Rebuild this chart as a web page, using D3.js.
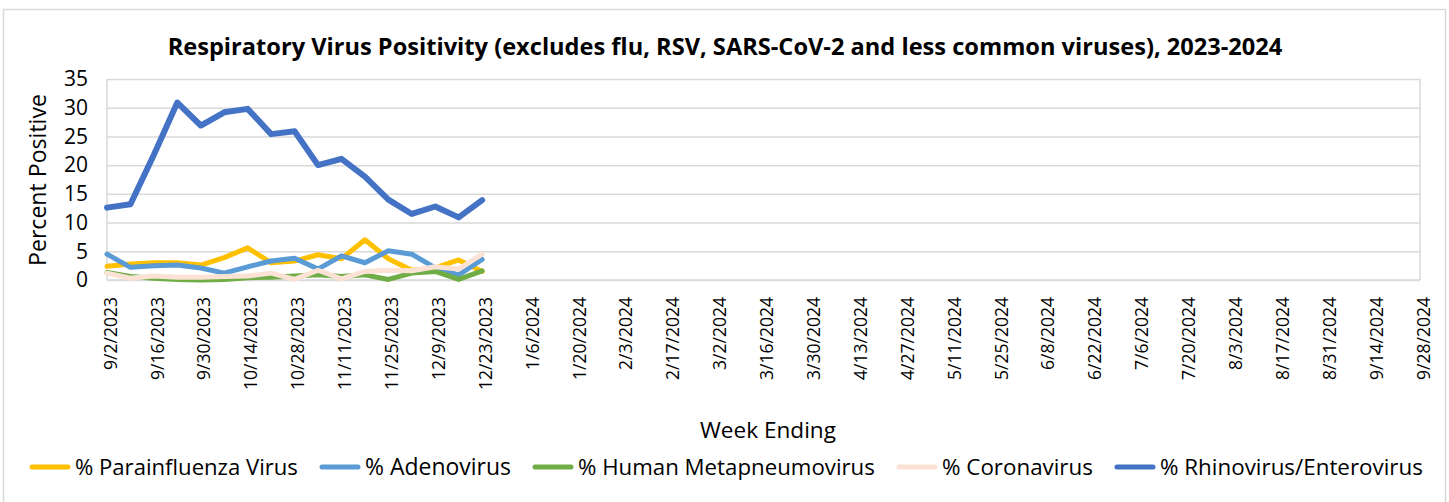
<!DOCTYPE html>
<html>
<head>
<meta charset="utf-8">
<script src="https://cdn.jsdelivr.net/npm/d3@7"></script>
<style>
  body { margin: 0; background: #fff; }
  svg text { font-family: "Open Sans", "Noto Sans", sans-serif; fill: #000; }
</style>
</head>
<body>
<div id="chart"></div>
<script>
var weeks = ["9/2/2023","9/9/2023","9/16/2023","9/23/2023","9/30/2023","10/7/2023","10/14/2023","10/21/2023","10/28/2023","11/4/2023","11/11/2023","11/18/2023","11/25/2023","12/2/2023","12/9/2023","12/16/2023","12/23/2023","12/30/2023",
  "1/6/2024","1/13/2024","1/20/2024","1/27/2024","2/3/2024","2/10/2024","2/17/2024","2/24/2024","3/2/2024","3/9/2024","3/16/2024","3/23/2024","3/30/2024",
  "4/6/2024","4/13/2024","4/20/2024","4/27/2024","5/4/2024","5/11/2024","5/18/2024","5/25/2024","6/1/2024","6/8/2024","6/15/2024","6/22/2024","6/29/2024",
  "7/6/2024","7/13/2024","7/20/2024","7/27/2024","8/3/2024","8/10/2024","8/17/2024","8/24/2024","8/31/2024","9/7/2024","9/14/2024","9/21/2024","9/28/2024"]

var seriesNames = ["% Parainfluenza Virus", "% Adenovirus", "% Human Metapneumovirus", "% Coronavirus", "% Rhinovirus/Enterovirus"]

var parainfluenza = [2.4, 2.8, 3.0, 3.0, 2.6, 3.9, 5.6, 3.0, 3.3, 4.4, 3.7, 7.0, 3.7, 1.7, 2.1, 3.5, 1.5]
var adenovirus    = [4.5, 2.2, 2.5, 2.6, 2.1, 1.2, 2.3, 3.3, 3.8, 1.9, 4.2, 3.0, 5.1, 4.5, 2.1, 0.9, 3.6]
var hmpv          = [1.3, 0.6, 0.3, 0.1, 0.0, 0.1, 0.4, 0.5, 0.7, 0.9, 0.6, 0.9, 0.1, 1.2, 1.5, 0.1, 1.6]
var coronavirus   = [1.2, 0.3, 0.7, 0.5, 0.5, 0.6, 0.7, 1.2, 0.1, 1.7, 0.2, 1.5, 1.7, 1.6, 2.3, 1.9, 4.5]
var rhino         = [12.6, 13.2, 21.8, 30.9, 26.9, 29.2, 29.8, 25.4, 25.9, 20.0, 21.1, 18.0, 14.0, 11.5, 12.8, 10.9, 13.9]

var yTicks = [0, 5, 10, 15, 20, 25, 30, 35]

var colors = ["#FFC000", "#5B9BD5", "#70AD47", "#FBE2D5", "#4472C4"]
var allSeries = [parainfluenza, adenovirus, hmpv, coronavirus, rhino]

var W = 1449, H = 502
var plot = {left: 107, right: 1420, top: 79, bottom: 280}

var svg = d3.select("#chart").append("svg")
  .attr("width", W).attr("height", H)

// chart border
svg.append("rect")
  .attr("x", 3.5).attr("y", 9.5)
  .attr("width", 1442).attr("height", 500)
  .attr("fill", "none").attr("stroke", "#D9D9D9").attr("stroke-width", 1.5)

var x = d3.scalePoint().domain(weeks).range([plot.left, plot.right])
var y = d3.scaleLinear().domain([0, 35]).range([plot.bottom, plot.top])

// scale a text element's font so it spans the given width
function fit(t, width) {
  var len = t.node().getComputedTextLength()
  var fs = parseFloat(t.style("font-size"))
  t.style("font-size", (fs * width / len) + "px")
}

// gridlines
svg.append("g")
  .attr("transform", "translate(" + plot.left + ",0)")
  .call(d3.axisLeft(y).tickValues(yTicks).tickSize(-(plot.right - plot.left)).tickFormat(""))
  .call(function(g) {
    g.select(".domain").remove()
    g.selectAll("line").attr("stroke", "#D9D9D9").attr("stroke-width", 1.5)
  })

// plot edges
svg.append("line").attr("x1", plot.left).attr("x2", plot.left).attr("y1", plot.top).attr("y2", plot.bottom)
  .attr("stroke", "#D9D9D9").attr("stroke-width", 1.5)
svg.append("line").attr("x1", plot.right).attr("x2", plot.right).attr("y1", plot.top).attr("y2", plot.bottom)
  .attr("stroke", "#D9D9D9").attr("stroke-width", 1.5)

// y axis labels
var yAxis = svg.append("g")
  .attr("transform", "translate(" + (plot.left - 19) + ",0)")
  .call(d3.axisLeft(y).tickValues(yTicks).tickSize(0).tickPadding(0))
yAxis.select(".domain").remove()
yAxis.selectAll("text").attr("font-family", null).style("font-size", "21px").attr("fill", "#000")

// x axis
var xAxis = svg.append("g")
  .attr("transform", "translate(0," + plot.bottom + ")")
  .call(d3.axisBottom(x).tickValues(weeks.filter(function(d, i) { return i % 2 === 0 })).tickSize(0).tickFormat(function(d) { return d }))
xAxis.select(".domain").attr("stroke", "#D9D9D9").attr("stroke-width", 1.5)
  .attr("d", "M" + plot.left + ",0H" + plot.right)
var xLabels = xAxis.selectAll("text")
  .attr("font-family", null)
  .style("font-size", "17px")
  .attr("fill", "#000")
  .attr("transform", "rotate(-90)")
  .attr("x", -17).attr("y", 3).attr("dy", "0.35em")
  .attr("text-anchor", "end")
// size the tick labels so "9/16/2023" spans about 83px
var ref = xLabels.filter(function(d) { return d === "9/16/2023" })
var fsX = 17 * 83 / ref.node().getComputedTextLength()
xLabels.style("font-size", fsX + "px")

// lines
var line = d3.line()
  .x(function(d, i) { return x(weeks[i]) })
  .y(function(d) { return y(d) })

svg.append("g").selectAll("path")
  .data(allSeries)
  .enter().append("path")
  .attr("d", line)
  .attr("fill", "none")
  .attr("stroke", function(d, i) { return colors[i] })
  .attr("stroke-width", function(d, i) { return i === 4 ? 6 : 5 })
  .attr("stroke-linejoin", "round")
  .attr("stroke-linecap", "round")

// title
var title = svg.append("text")
  .attr("x", 725).attr("y", 55)
  .attr("text-anchor", "middle")
  .style("font-weight", "bold").style("font-size", "20px")
  .text("Respiratory Virus Positivity (excludes flu, RSV, SARS-CoV-2 and less common viruses), 2023-2024")
fit(title, 1115)

var yTitle = svg.append("text")
  .attr("transform", "translate(46,180) rotate(-90)")
  .attr("text-anchor", "middle")
  .style("font-size", "20px")
  .text("Percent Positive")
fit(yTitle, 172)

var xTitle = svg.append("text")
  .attr("x", 768).attr("y", 438)
  .attr("text-anchor", "middle")
  .style("font-size", "20px")
  .text("Week Ending")
fit(xTitle, 136)

// legend
var legendWidths = [223, 146, 297, 151, 263]
var legend = svg.append("g")
var lx = 30
seriesNames.forEach(function(name, i) {
  legend.append("line")
    .attr("x1", lx + 2).attr("x2", lx + 38)
    .attr("y1", 467).attr("y2", 467)
    .attr("stroke", colors[i]).attr("stroke-width", 5).attr("stroke-linecap", "round")
  var t = legend.append("text")
    .attr("x", lx + 45).attr("y", 467).attr("dy", "0.35em")
    .style("font-size", "17px")
    .text(name)
  fit(t, legendWidths[i])
  lx += 45 + legendWidths[i] + 22
})
</script>
</body>
</html>
